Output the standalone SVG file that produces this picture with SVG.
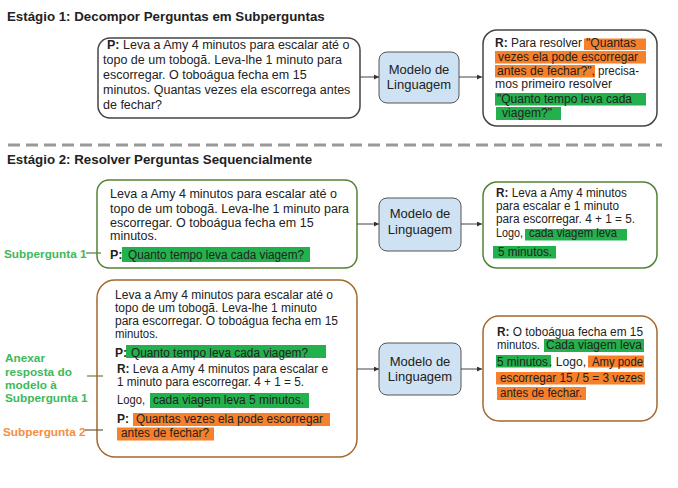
<svg xmlns="http://www.w3.org/2000/svg" width="678" height="488" viewBox="0 0 678 488">
<style>
text{font-family:"Liberation Sans",Arial,sans-serif;font-size:12.5px;fill:#222}
.s{font-size:12px}
.title{font-size:13.3px;font-weight:bold}
.b{font-weight:bold}
.box{fill:#fff;stroke-width:1.5}
.k{stroke:#444}
.g{stroke:#548235}
.br{stroke:#a4682d}
.lm{fill:#cfe2f3;stroke:#555;stroke-width:1}
.lmt{font-size:13px;text-anchor:middle}
.hg{fill:#22b14c}
.ho{fill:#f7802a}
.lg{fill:#3cb95a;font-weight:bold;font-size:11.8px}
.lo{fill:#f58d42;font-weight:bold;font-size:11.8px}
.conn line{stroke:#444;stroke-width:1}
</style>
<defs>
<marker id="ah" viewBox="0 0 6 6" refX="6" refY="3" markerWidth="5" markerHeight="5" orient="auto"><path d="M0,0 L6,3 L0,6 z" fill="#333"/></marker>
</defs>
<text class="title" x="7" y="21">Estágio 1: Decompor Perguntas em Subperguntas</text>
<line x1="8" y1="145" x2="662" y2="145" stroke="#999" stroke-width="3" stroke-dasharray="12 6"/>
<text class="title" x="7" y="164">Estágio 2: Resolver Perguntas Sequencialmente</text>

<g id="q1">
<rect class="box k" x="98" y="38" width="262" height="80" rx="12"/>
<text x="107" y="48.5"><tspan class="b">P:</tspan> Leva a Amy 4 minutos para escalar até o</text>
<text x="103" y="64">topo de um tobogã. Leva-lhe 1 minuto para</text>
<text x="103" y="79">escorregar. O toboágua fecha em 15</text>
<text x="103" y="94">minutos. Quantas vezes ela escorrega antes</text>
<text x="103" y="109">de fechar?</text>
</g>
<g id="lm1">
<rect class="lm" x="379" y="52" width="80" height="51" rx="8"/>
<text class="lmt" x="419" y="73.5">Modelo de</text>
<text class="lmt" x="419" y="89">Linguagem</text>
</g>
<g id="a1" class="s">
<rect class="box k" x="483" y="30" width="174" height="96" rx="14"/>
<rect class="ho" x="584" y="38.5" width="62" height="11.5"/>
<rect class="ho" x="495" y="51" width="151" height="12.5"/>
<rect class="ho" x="495" y="65" width="100" height="12.5"/>
<rect class="hg" x="495" y="93" width="151" height="12.5"/>
<rect class="hg" x="496" y="107" width="65" height="13"/>
<text class="s" x="495" y="47" textLength="87" lengthAdjust="spacingAndGlyphs"><tspan class="b">R:</tspan> Para resolver</text>
<text class="s" x="586" y="47" textLength="50" lengthAdjust="spacingAndGlyphs">"Quantas</text>
<text class="s" x="498" y="61" textLength="140" lengthAdjust="spacingAndGlyphs">vezes ela pode escorregar</text>
<text class="s" x="497" y="75" textLength="98" lengthAdjust="spacingAndGlyphs">antes de fechar?",</text>
<text class="s" x="598" y="75" textLength="41" lengthAdjust="spacingAndGlyphs">precisa-</text>
<text class="s" x="495" y="88" textLength="117" lengthAdjust="spacingAndGlyphs">mos primeiro resolver</text>
<text class="s" x="497" y="103" textLength="135" lengthAdjust="spacingAndGlyphs">"Quanto tempo leva cada</text>
<text class="s" x="502" y="117" textLength="50" lengthAdjust="spacingAndGlyphs">viagem?"</text>
</g>

<g id="q2">
<rect class="box g" x="97" y="180" width="260" height="88" rx="12"/>
<text x="110" y="197.5" textLength="227" lengthAdjust="spacingAndGlyphs">Leva a Amy 4 minutos para escalar até o</text>
<text x="110" y="212.5">topo de um tobogã. Leva-lhe 1 minuto para</text>
<text x="110" y="226.5">escorregar. O toboágua fecha em 15</text>
<text x="110" y="240">minutos.</text>
<rect class="hg" x="122" y="247" width="188" height="15"/>
<text x="110" y="259"><tspan class="b">P:</tspan></text>
<text x="128" y="259" textLength="176" lengthAdjust="spacingAndGlyphs">Quanto tempo leva cada viagem?</text>
</g>
<g id="lab1">
<text class="lg" x="4" y="257.5">Subpergunta 1</text>
<line x1="86" y1="253" x2="101" y2="253" stroke="#548235" stroke-width="1.2"/>
</g>
<g id="lm2">
<rect class="lm" x="379" y="198" width="82" height="53" rx="8"/>
<text class="lmt" x="420" y="218">Modelo de</text>
<text class="lmt" x="420" y="233.5">Linguagem</text>
</g>
<g id="a2">
<rect class="box g" x="483" y="182" width="174" height="86" rx="14"/>
<text class="s" x="496" y="196.5" textLength="131" lengthAdjust="spacingAndGlyphs"><tspan class="b">R:</tspan> Leva a Amy 4 minutos</text>
<text class="s" x="496" y="210" textLength="123" lengthAdjust="spacingAndGlyphs">para escalar e 1 minuto</text>
<text class="s" x="496" y="223" textLength="139" lengthAdjust="spacingAndGlyphs">para escorregar. 4 + 1 = 5.</text>
<rect class="hg" x="525" y="229" width="102" height="11.5"/>
<text class="s" x="496" y="237" textLength="27" lengthAdjust="spacingAndGlyphs">Logo,</text>
<text class="s" x="529" y="237" textLength="88" lengthAdjust="spacingAndGlyphs">cada viagem leva</text>
<rect class="hg" x="493" y="246" width="63" height="12.5"/>
<text class="s" x="498" y="256" textLength="54" lengthAdjust="spacingAndGlyphs">5 minutos.</text>
</g>

<g id="q3">
<rect class="box br" x="97" y="280" width="260" height="177" rx="18"/>
<text class="s" x="115" y="299" textLength="218" lengthAdjust="spacingAndGlyphs">Leva a Amy 4 minutos para escalar até o</text>
<text class="s" x="115" y="312" textLength="202" lengthAdjust="spacingAndGlyphs">topo de um tobogã. Leva-lhe 1 minuto</text>
<text class="s" x="115" y="325" textLength="223" lengthAdjust="spacingAndGlyphs">para escorregar. O toboágua fecha em 15</text>
<text class="s" x="115" y="338" textLength="43" lengthAdjust="spacingAndGlyphs">minutos.</text>
<rect class="hg" x="126" y="345" width="200" height="13"/>
<text class="s" x="115" y="356.5"><tspan class="b">P:</tspan></text>
<text class="s" x="131" y="356.5" textLength="177" lengthAdjust="spacingAndGlyphs">Quanto tempo leva cada viagem?</text>
<text class="s" x="117" y="373" textLength="211" lengthAdjust="spacingAndGlyphs"><tspan class="b">R:</tspan> Leva a Amy 4 minutos para escalar e</text>
<text class="s" x="117" y="386" textLength="187" lengthAdjust="spacingAndGlyphs">1 minuto para escorregar. 4 + 1 = 5.</text>
<rect class="hg" x="150" y="393" width="159" height="15"/>
<text class="s" x="117" y="404" textLength="28" lengthAdjust="spacingAndGlyphs">Logo,</text>
<text class="s" x="153" y="404" textLength="151" lengthAdjust="spacingAndGlyphs">cada viagem leva 5 minutos.</text>
<rect class="ho" x="133" y="413" width="197" height="13"/>
<rect class="ho" x="117" y="427.5" width="97" height="13"/>
<text class="s" x="117" y="422.5"><tspan class="b">P:</tspan></text>
<text class="s" x="136" y="422.5" textLength="187" lengthAdjust="spacingAndGlyphs">Quantas vezes ela pode escorregar</text>
<text class="s" x="121" y="437" textLength="88" lengthAdjust="spacingAndGlyphs">antes de fechar?</text>
</g>
<g id="lab2">
<text class="lg" x="5" y="361.5">Anexar</text>
<text class="lg" x="5" y="375.5">resposta do</text>
<text class="lg" x="5" y="389">modelo à</text>
<text class="lg" x="5" y="402">Subpergunta 1</text>
<line x1="87" y1="376" x2="103" y2="376" stroke="#6b7f3a" stroke-width="1.2"/>
</g>
<g id="lab3">
<text class="lo" x="3" y="435.5">Subpergunta 2</text>
<line x1="85" y1="430" x2="103" y2="430" stroke="#6b5a3a" stroke-width="1.2"/>
</g>
<g id="lm3">
<rect class="lm" x="379" y="343" width="82" height="52" rx="8"/>
<text class="lmt" x="420" y="365.5">Modelo de</text>
<text class="lmt" x="420" y="380.5">Linguagem</text>
</g>
<g id="a3">
<rect class="box br" x="483" y="316" width="174" height="105" rx="16"/>
<text class="s" x="497" y="336" textLength="146" lengthAdjust="spacingAndGlyphs"><tspan class="b">R:</tspan> O toboágua fecha em 15</text>
<rect class="hg" x="544" y="339" width="100" height="13"/>
<text class="s" x="497" y="349" textLength="43" lengthAdjust="spacingAndGlyphs">minutos.</text>
<text class="s" x="546" y="349" textLength="96" lengthAdjust="spacingAndGlyphs">Cada viagem leva</text>
<rect class="hg" x="496" y="355" width="55" height="12.5"/>
<rect class="ho" x="588" y="355.5" width="56" height="12"/>
<text class="s" x="497" y="365.5" textLength="51" lengthAdjust="spacingAndGlyphs">5 minutos</text>
<text class="s" x="549" y="365.5" textLength="37" lengthAdjust="spacingAndGlyphs">. Logo,</text>
<text class="s" x="592" y="365.5" textLength="51" lengthAdjust="spacingAndGlyphs">Amy pode</text>
<rect class="ho" x="496" y="372" width="149" height="12.5"/>
<text class="s" x="500" y="382" textLength="143" lengthAdjust="spacingAndGlyphs">escorregar 15 / 5 = 3 vezes</text>
<rect class="ho" x="497" y="387" width="89" height="13"/>
<text class="s" x="500" y="396.5" textLength="82" lengthAdjust="spacingAndGlyphs">antes de fechar.</text>
</g>

<g id="connectors" class="conn">
<line x1="360" y1="77" x2="379" y2="77" marker-end="url(#ah)"/>
<line x1="459" y1="77" x2="482" y2="77" marker-end="url(#ah)"/>
<line x1="357" y1="224" x2="379" y2="224" marker-end="url(#ah)"/>
<line x1="461" y1="224" x2="482" y2="224" marker-end="url(#ah)"/>
<line x1="357" y1="369" x2="379" y2="369" marker-end="url(#ah)"/>
<line x1="461" y1="369" x2="482" y2="369" marker-end="url(#ah)"/>
</g>
</svg>
